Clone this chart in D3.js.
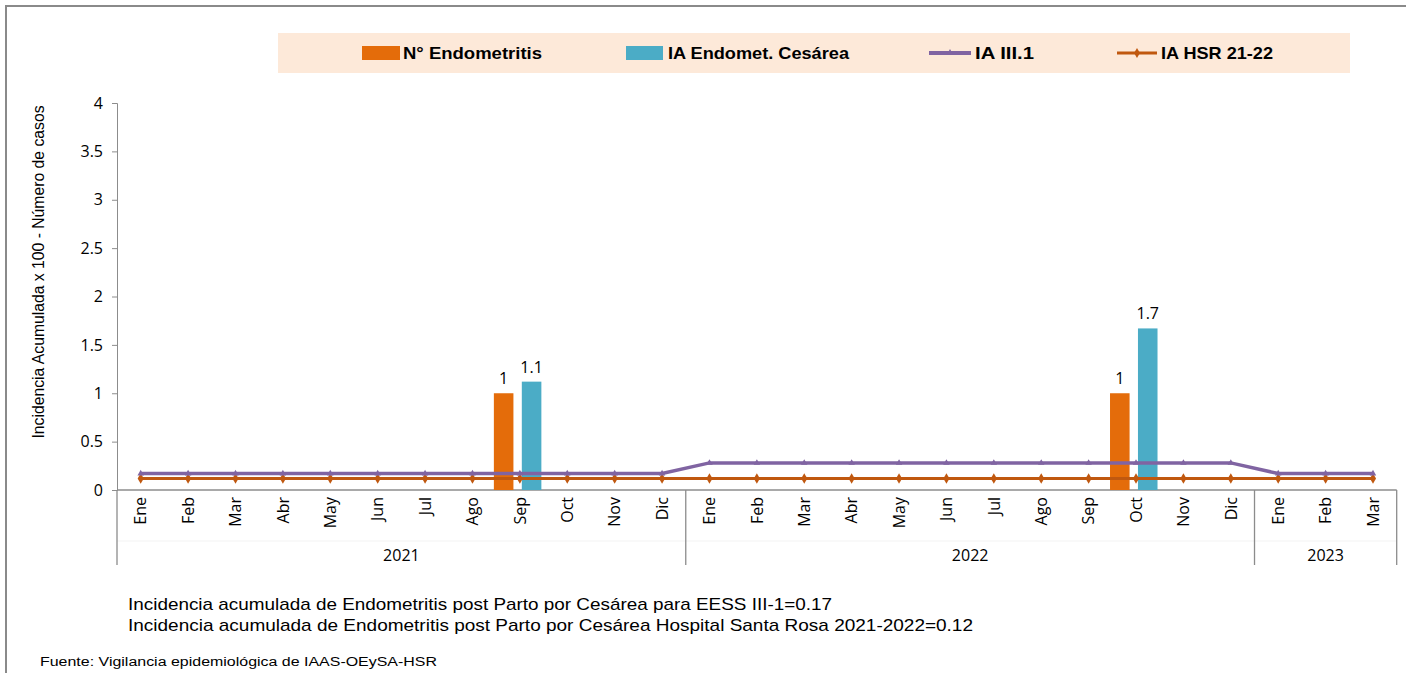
<!DOCTYPE html>
<html><head><meta charset="utf-8">
<script src="https://cdn.jsdelivr.net/npm/d3@7"></script>
<style>
body{margin:0;background:#fff;}
svg{display:block;}
text{font-family:"Liberation Sans","DejaVu Sans",sans-serif;fill:#000;}
</style></head><body>
<svg id="chart" width="1406" height="673"></svg>
<script>
// ---- data ----
const months2021 = ["Ene","Feb","Mar","Abr","May","Jun","Jul","Ago","Sep","Oct","Nov","Dic"];
const months2022 = ["Ene","Feb","Mar","Abr","May","Jun","Jul","Ago","Sep","Oct","Nov","Dic"];
const months2023 = ["Ene","Feb","Mar"];
const years = ["2021","2022","2023"];
const nEndometritis = [0,0,0,0,0,0,0,0,1,0,0,0, 0,0,0,0,0,0,0,0,0,1,0,0, 0,0,0];
const iaEndomet =     [0,0,0,0,0,0,0,0,1.12,0,0,0, 0,0,0,0,0,0,0,0,0,1.67,0,0, 0,0,0];
const iaIII1 = [0.17,0.17,0.17,0.17,0.17,0.17,0.17,0.17,0.17,0.17,0.17,0.17,
                0.28,0.28,0.28,0.28,0.28,0.28,0.28,0.28,0.28,0.28,0.28,0.28,
                0.17,0.17,0.17];
const iaHSR = [0.12,0.12,0.12,0.12,0.12,0.12,0.12,0.12,0.12,0.12,0.12,0.12,
               0.12,0.12,0.12,0.12,0.12,0.12,0.12,0.12,0.12,0.12,0.12,0.12,
               0.12,0.12,0.12];
const yTicks = [0,0.5,1,1.5,2,2.5,3,3.5,4];
const seriesNames = ["N° Endometritis","IA Endomet. Cesárea","IA  III.1","IA HSR 21-22"];
const notes = ["Incidencia acumulada de Endometritis post Parto por Cesárea para EESS III-1=0.17",
               "Incidencia acumulada de Endometritis post Parto por Cesárea Hospital Santa Rosa 2021-2022=0.12"];
const source = "Fuente: Vigilancia epidemiológica de IAAS-OEySA-HSR";
const yTitle = "Incidencia Acumulada x 100 - Número de casos";

const C = {orange:"#E46C0A", cyan:"#4BACC6", purple:"#8064A2", brown:"#C0580F", axis:"#8c8c8c"};
const F = "'Open Sans','Liberation Sans',sans-serif";

const groups = [months2021, months2022, months2023];
const cats = [];
groups.forEach((g,gi)=>g.forEach(m=>cats.push({m, y:years[gi], g:gi})));
const idx = cats.map((d,i)=>i);

const svg = d3.select("#chart");
const x = d3.scaleBand().domain(idx).range([117,1396.7]).padding(0);
const y = d3.scaleLinear().domain([0,4]).range([490,103]);
const sub = d3.scaleBand().domain(["n","ia"]).range([-26,21.5]).paddingInner(0.3);
const cx = i => x(i) + x.bandwidth()/2;

// outer border
svg.append("path").attr("d","M6,673 V6 H1406").attr("fill","none").attr("stroke","#8a8a8a").attr("stroke-width",2);

// legend
const lg = svg.append("g");
lg.append("rect").attr("x",278).attr("y",33).attr("width",1072).attr("height",40).attr("fill","#FDE9D9");
const ly = 53;
lg.append("rect").attr("x",362).attr("y",ly-7).attr("width",38).attr("height",14).attr("fill",C.orange);
lg.append("rect").attr("x",626).attr("y",ly-7).attr("width",37).attr("height",14).attr("fill",C.cyan);
lg.append("line").attr("x1",929).attr("x2",971).attr("y1",ly).attr("y2",ly).attr("stroke",C.purple).attr("stroke-width",4);
lg.append("path").attr("d",d3.symbol().type(d3.symbolTriangle).size(20)()).attr("transform",`translate(950,${ly})`).attr("fill",C.purple);
lg.append("line").attr("x1",1117).attr("x2",1157).attr("y1",ly).attr("y2",ly).attr("stroke",C.brown).attr("stroke-width",3);
lg.append("path").attr("d",d3.symbol().type(d3.symbolDiamond).size(30)()).attr("transform",`translate(1137,${ly})`).attr("fill",C.brown);
[[403,0,139],[668,1,181],[975,2,59],[1161,3,112]].forEach(([lx,i,w])=>{
  lg.append("text").attr("x",lx).attr("y",ly).attr("dy","0.36em").attr("font-size",17).attr("font-weight","bold")
    .attr("textLength",w).attr("lengthAdjust","spacingAndGlyphs")
    .text(seriesNames[i]);
});

// y axis
const ya = svg.append("g").attr("transform","translate(117,0)")
  .call(d3.axisLeft(y).tickValues(yTicks).tickSize(5).tickPadding(9).tickFormat(d=>String(d)));
ya.select(".domain").attr("stroke",C.axis);
ya.selectAll(".tick line").attr("stroke",C.axis);
ya.selectAll(".tick text").attr("font-size",16).style("font-family",F).attr("fill","#000");

// y title
svg.append("text").attr("transform","translate(38,272) rotate(-90)").attr("text-anchor","middle")
  .attr("dy","0.35em").attr("font-size",16.5).attr("textLength",333).attr("lengthAdjust","spacingAndGlyphs")
  .text(yTitle);

// x axis baseline
svg.append("line").attr("x1",117).attr("x2",1396.7).attr("y1",y(0)).attr("y2",y(0)).attr("stroke",C.axis).attr("stroke-width",1.3);
// faint level separator
svg.append("line").attr("x1",117).attr("x2",1396.7).attr("y1",541).attr("y2",541).attr("stroke","#f3f3f3").attr("stroke-width",1);
// group separators
[0,12,24].forEach(b=>{
  svg.append("line").attr("x1",x(b)).attr("x2",x(b)).attr("y1",y(0)).attr("y2",565).attr("stroke",C.axis).attr("stroke-width",1.3);
});
svg.append("line").attr("x1",1396.7).attr("x2",1396.7).attr("y1",y(0)).attr("y2",565).attr("stroke",C.axis).attr("stroke-width",1.3);

// month labels
svg.append("g").selectAll("text").data(cats).join("text")
  .attr("transform",(d,i)=>`translate(${cx(i)},497) rotate(-90)`)
  .attr("text-anchor","end").attr("dy","0.36em").attr("font-size",16)
  .style("font-family",F).text(d=>d.m);

// year labels
const gStart=[0,12,24], gEnd=[12,24,27];
years.forEach((yr,gi)=>{
  const x0 = x(gStart[gi]), x1 = gEnd[gi]===27 ? 1396.7 : x(gEnd[gi]);
  svg.append("text").attr("x",(x0+x1)/2).attr("y",555).attr("dy","0.35em").attr("text-anchor","middle")
    .attr("font-size",16).style("font-family",F).text(yr);
});

// bars
const barData = [];
idx.forEach(i=>{
  barData.push({i,k:"n",v:nEndometritis[i],c:C.orange,lab:String(nEndometritis[i])});
  barData.push({i,k:"ia",v:iaEndomet[i],c:C.cyan,lab:d3.format(".1f")(iaEndomet[i])});
});
svg.append("g").selectAll("rect").data(barData.filter(d=>d.v>0)).join("rect")
  .attr("x",d=>cx(d.i)+sub(d.k)).attr("width",sub.bandwidth())
  .attr("y",d=>y(d.v)).attr("height",d=>y(0)-y(d.v)).attr("fill",d=>d.c);

// lines
const line = d3.line().x((d,i)=>cx(i)).y(d=>y(d));
svg.append("path").datum(iaHSR).attr("d",line).attr("fill","none").attr("stroke",C.brown).attr("stroke-width",3);
svg.append("g").selectAll("path").data(iaHSR).join("path")
  .attr("d",d3.symbol().type(d3.symbolDiamond).size(32)()).attr("transform",(d,i)=>`translate(${cx(i)},${y(d)})`).attr("fill",C.brown);
svg.append("path").datum(iaIII1).attr("d",line).attr("fill","none").attr("stroke",C.purple).attr("stroke-width",3.5);
svg.append("g").selectAll("path").data(iaIII1).join("path")
  .attr("d",d3.symbol().type(d3.symbolTriangle).size(18)()).attr("transform",(d,i)=>`translate(${cx(i)},${y(d)})`).attr("fill",C.purple);

// data labels
svg.append("g").selectAll("text").data(barData.filter(d=>d.v>0)).join("text")
  .attr("x",d=>cx(d.i)+sub(d.k)+sub.bandwidth()/2).attr("y",d=>y(d.v)-9)
  .attr("text-anchor","middle").attr("font-size",16)
  .style("font-family",F).text(d=>d.lab);

// notes
notes.forEach((t,i)=>{
  svg.append("text").attr("x",128).attr("y",604+i*21).attr("dy","0.35em").attr("font-size",17)
    .attr("textLength", i===0?704:845).attr("lengthAdjust","spacingAndGlyphs").text(t);
});
svg.append("text").attr("x",40).attr("y",662).attr("dy","0.35em").attr("font-size",12)
  .attr("textLength",397).attr("lengthAdjust","spacingAndGlyphs").text(source);
</script>
</body></html>
